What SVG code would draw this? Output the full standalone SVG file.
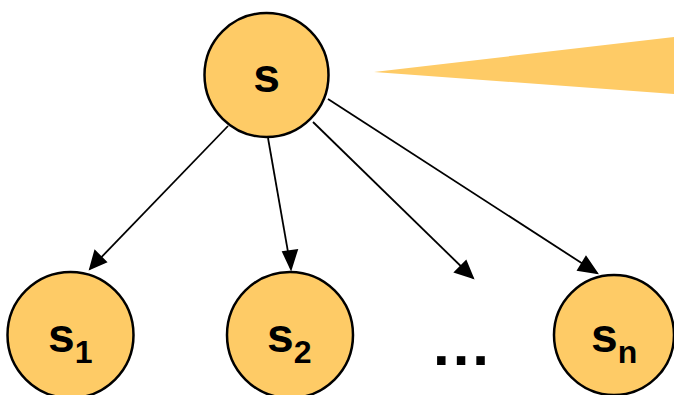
<svg xmlns="http://www.w3.org/2000/svg" width="674" height="395" viewBox="0 0 674 395">
<style>
.node{fill:#FECB66;stroke:#000;stroke-width:2.5}
.lbl{font-family:"Liberation Sans",Arial,sans-serif;font-weight:bold;font-size:48px;fill:#000}
.sub{font-size:32px}
</style>
<polygon points="374,72 674,37 674,94" fill="#FECB66"/>
<g id="connectors" stroke="#000" stroke-width="1.8">
<line x1="228" y1="126" x2="90" y2="269"/>
<path d="M90,269 L95,251 L106,262 z" fill="#000"/>
<line x1="268" y1="138" x2="291" y2="269"/>
<path d="M291,269 L283,252 L297,250 z" fill="#000"/>
<line x1="313" y1="122" x2="473" y2="278"/>
<path d="M473,278 L455,272 L466,261 z" fill="#000"/>
<line x1="328" y1="99" x2="597" y2="273"/>
<path d="M597,273 L578,270 L586,257 z" fill="#000"/>
</g>
<g id="node-s">
<circle class="node" cx="266.5" cy="75" r="62"/>
<text class="lbl" x="266.5" y="92" text-anchor="middle">s</text>
</g>
<g id="node-s1">
<circle class="node" cx="70.5" cy="335" r="63"/>
<text class="lbl" x="48" y="352">s<tspan class="sub" dy="11">1</tspan></text>
</g>
<g id="node-s2">
<circle class="node" cx="290" cy="335" r="63"/>
<text class="lbl" x="267" y="352">s<tspan class="sub" dy="11">2</tspan></text>
</g>
<g id="node-dots">
<text class="lbl" x="433" y="365" style="font-size:60px;letter-spacing:3px">...</text>
</g>
<g id="node-sn">
<circle class="node" cx="614" cy="335" r="60"/>
<text class="lbl" x="591" y="352">s<tspan class="sub" dy="11">n</tspan></text>
</g>
</svg>
